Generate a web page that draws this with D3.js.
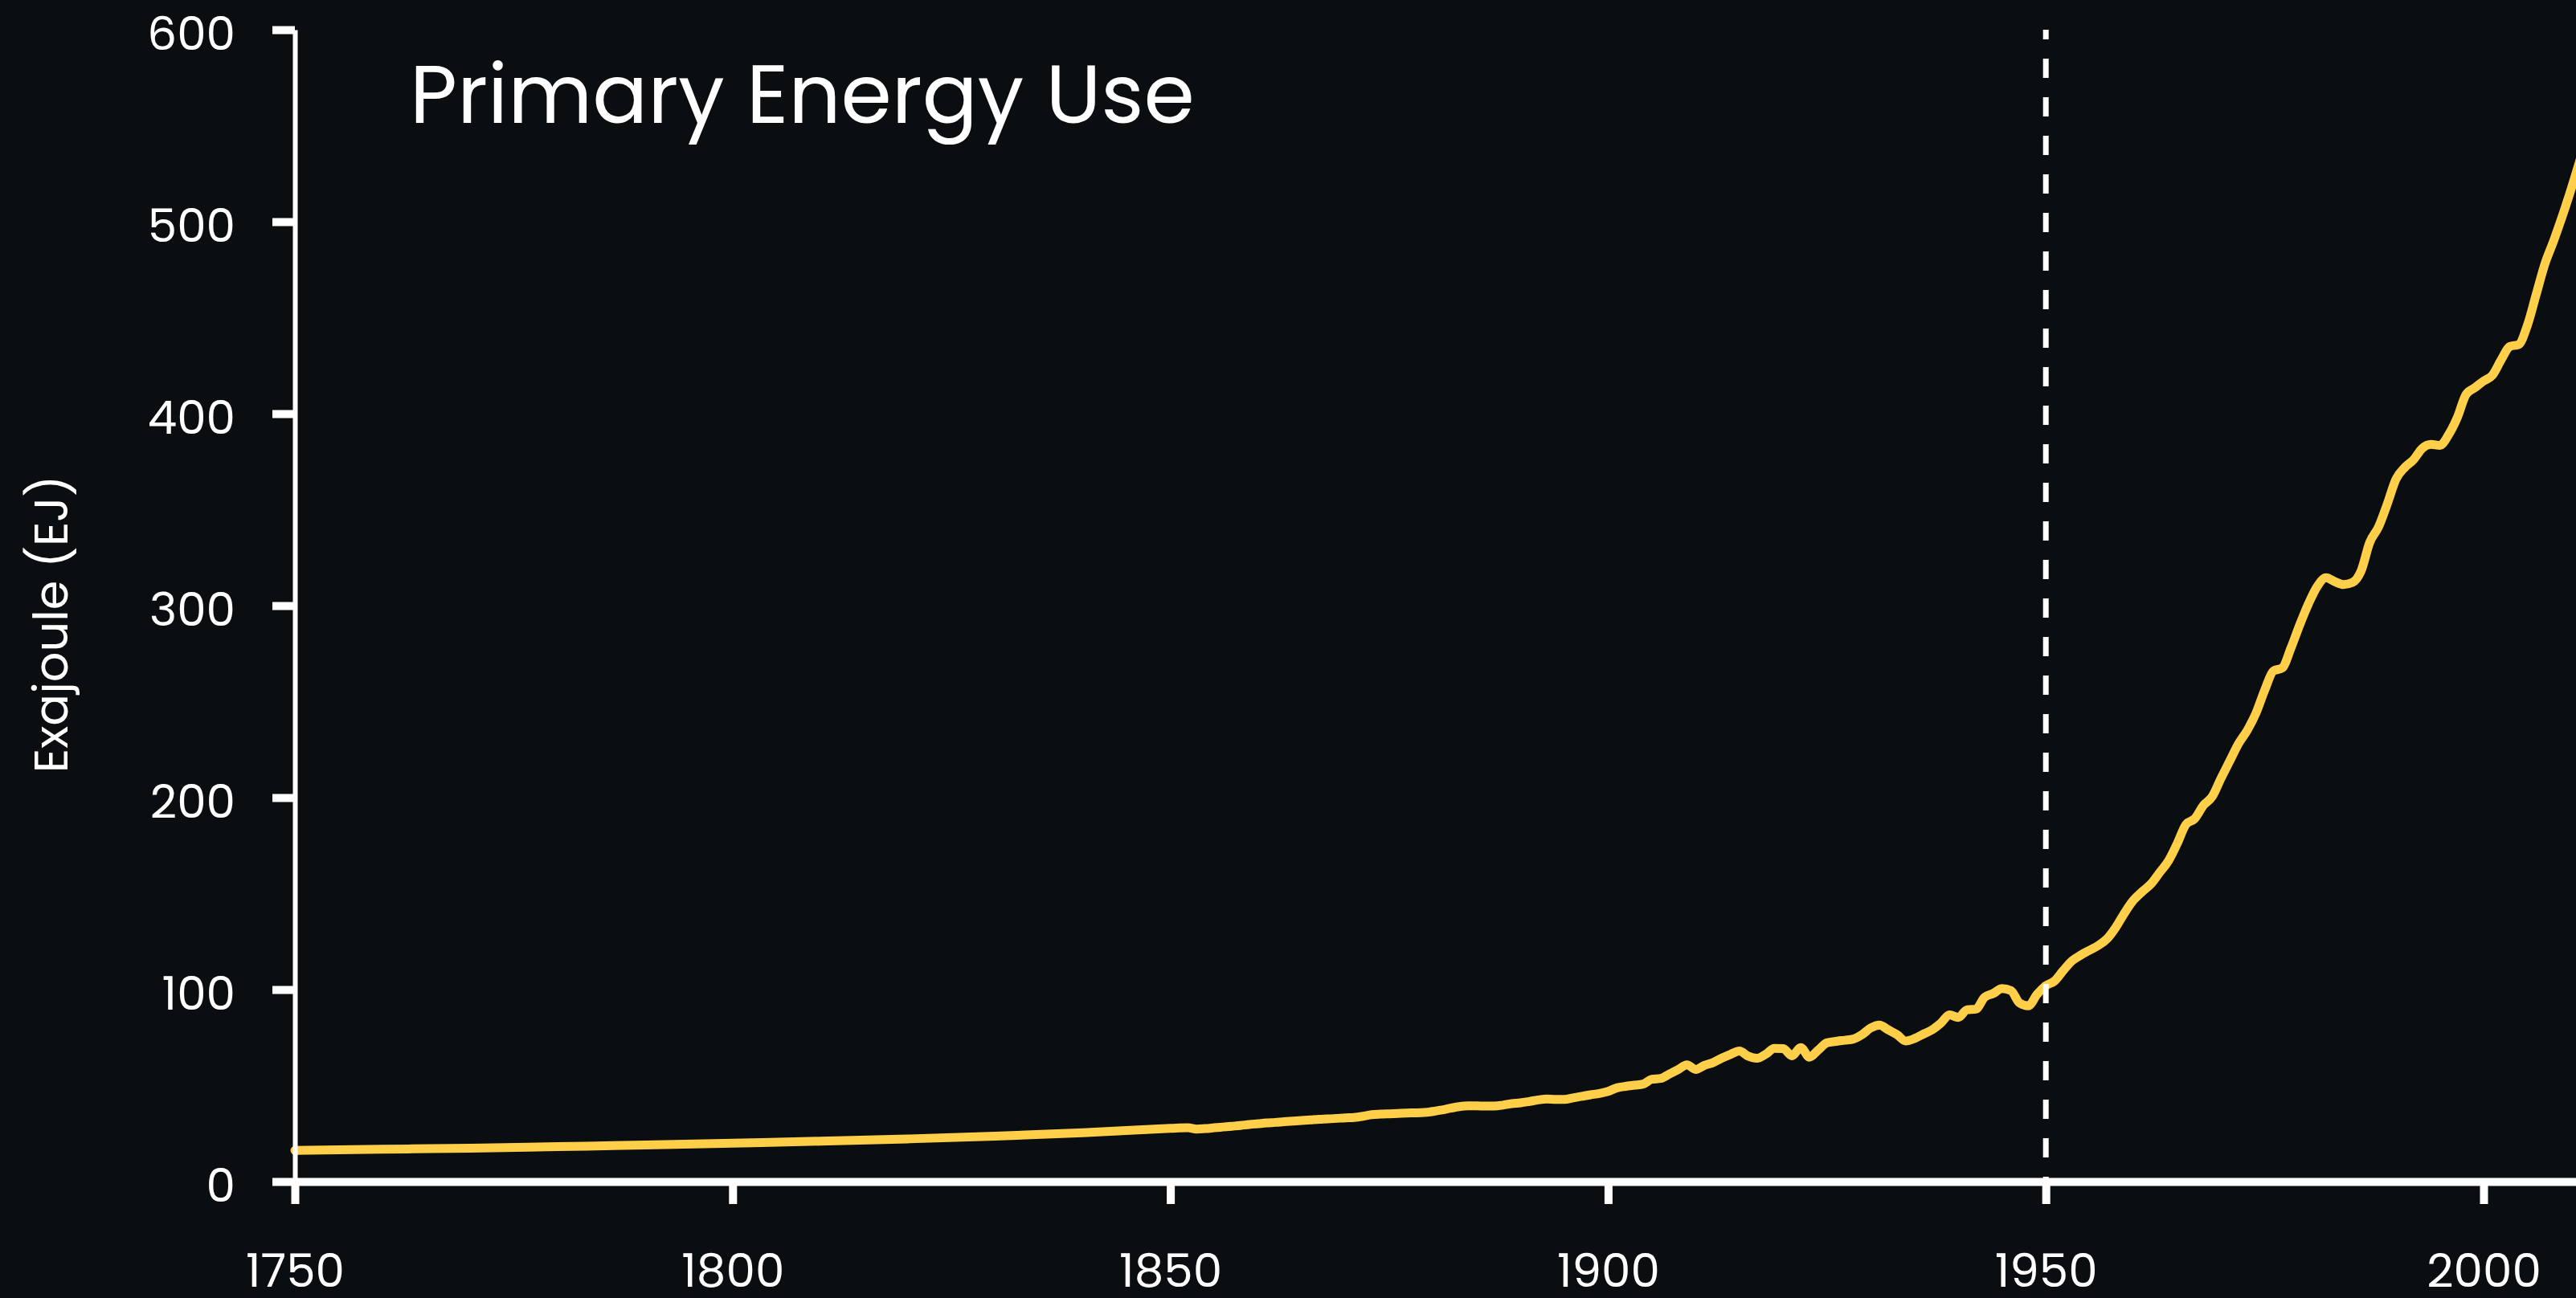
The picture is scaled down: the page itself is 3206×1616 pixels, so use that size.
<!DOCTYPE html>
<html>
<head>
<meta charset="utf-8">
<script src="https://cdn.jsdelivr.net/npm/d3@7"></script>
<style>
  html, body { margin: 0; padding: 0; background: #0b0e11; }
  svg { display: block; }
  text { font-family: Poppins, Inter, "Open Sans", sans-serif; fill: #ffffff; }
</style>
</head>
<body>
<svg id="chart" width="3206" height="1616"></svg>
<script>
// ---- data ----
const years = [
  1750,1760,1770,1780,1790,1800,1810,1820,1830,1840,
  1850,1851,1852,1853,1854,1855,1856,1857,1858,1859,
  1860,1861,1862,1863,1864,1865,1866,1867,1868,1869,
  1870,1871,1872,1873,1874,1875,1876,1877,1878,1879,
  1880,1881,1882,1883,1884,1885,1886,1887,1888,1889,
  1890,1891,1892,1893,1894,1895,1896,1897,1898,1899,
  1900,1901,1902,1903,1904,1905,1906,1907,1908,1909,
  1910,1911,1912,1913,1914,1915,1916,1917,1918,1919,
  1920,1921,1922,1923,1924,1925,1926,1927,1928,1929,
  1930,1931,1932,1933,1934,1935,1936,1937,1938,1939,
  1940,1941,1942,1943,1944,1945,1946,1947,1948,1949,
  1950,1951,1952,1953,1954,1955,1956,1957,1958,1959,
  1960,1961,1962,1963,1964,1965,1966,1967,1968,1969,
  1970,1971,1972,1973,1974,1975,1976,1977,1978,1979,
  1980,1981,1982,1983,1984,1985,1986,1987,1988,1989,
  1990,1991,1992,1993,1994,1995,1996,1997,1998,1999,
  2000,2001,2002,2003,2004,2005,2006,2007,2008,2009,
  2010,2011
];
const energyEJ = [
  16.2,16.8,17.4,18.2,19.0,20.0,21.0,22.2,23.6,25.4,
  27.7,27.9,28.0,27.3,27.6,28.0,28.4,28.8,29.2,29.7,
  30.1,30.5,30.8,31.2,31.5,31.8,32.1,32.4,32.6,32.9,
  33.2,33.4,34.0,34.8,35.1,35.3,35.5,35.7,35.8,36.0,
  36.5,37.3,38.2,39.0,39.4,39.4,39.3,39.3,39.8,40.6,
  41.0,41.7,42.5,43.0,42.8,42.8,43.6,44.4,45.2,45.9,
  47.0,48.8,49.6,50.2,50.8,53.3,53.7,56.0,58.3,60.8,
  58.4,60.5,62.0,64.3,66.3,68.0,65.3,64.2,66.3,69.3,
  69.2,65.5,69.8,64.8,68.5,72.3,73.0,73.6,74.2,76.5,
  80.0,81.5,79.0,76.5,73.2,74.5,76.8,79.0,82.5,86.8,
  85.5,89.5,89.8,96.0,98.0,100.5,99.5,93.0,91.5,97.5,
  102.0,104.5,110.0,115.0,118.0,120.5,123.0,126.5,132.5,140.0,
  146.5,151.0,155.0,161.0,167.0,176.0,186.0,189.0,196.0,200.5,
  210,219,228,235,244,256,266,267.5,278,290,
  301,310,314.5,312.5,311,312,318,333,341,353,
  366,372,376,382,384,383.5,389,398,410,413.5,
  417,420,428,435,436,446,462,478,490,503,
  517,532
];
const yTicks = [0, 100, 200, 300, 400, 500, 600];
const xTicks = [1750, 1800, 1850, 1900, 1950, 2000];
const markerYear = 1950;
const titleText = "Primary Energy Use";
const yLabelText = "Exajoule (EJ)";

// ---- layout ----
const W = 3206, H = 1616;
const bg = "#0b0e11", lineColor = "#ffcf4a";
const svg = d3.select("#chart");
svg.append("rect").attr("width", W).attr("height", H).attr("fill", bg);

const x = d3.scaleLinear().domain([1750, 2000]).range([367, 3091]);
const y = d3.scaleLinear().domain([0, 600]).range([1471, 37]);
const xAxisScale = x.copy().domain([1750, x.invert(W)]).range([367, W]);

const data = years.map((yr, i) => ({ year: yr, v: energyEJ[i] }));

// data line
const line = d3.line().x(d => x(d.year)).y(d => y(d.v)).curve(d3.curveMonotoneX);
svg.append("path")
  .datum(data)
  .attr("d", line)
  .attr("fill", "none")
  .attr("stroke", lineColor)
  .attr("stroke-width", 11)
  .attr("stroke-linecap", "round")
  .attr("stroke-linejoin", "round");

// dashed marker
svg.append("line")
  .attr("x1", x(markerYear)).attr("x2", x(markerYear))
  .attr("y1", y(600)).attr("y2", y(0))
  .attr("stroke", "#ffffff")
  .attr("stroke-width", 7)
  .attr("stroke-dasharray", "24,24")
  .attr("stroke-dashoffset", 12);

// y axis
const yAxis = svg.append("g")
  .attr("transform", `translate(${x(1750)},0)`)
  .call(d3.axisLeft(y).tickValues(yTicks).tickSize(28).tickSizeOuter(0).tickPadding(46).tickFormat(d3.format("d")));
yAxis.select(".domain").attr("stroke", "#fff").attr("stroke-width", 6);
yAxis.selectAll(".tick line").attr("stroke", "#fff").attr("stroke-width", 10);
yAxis.selectAll(".tick text")
  .attr("fill", "#fff")
  .attr("font-size", 58)
  .attr("font-family", "Poppins, Inter, sans-serif")
  .attr("dy", null)
  .attr("y", 24);

// x axis
const xAxis = svg.append("g")
  .attr("transform", `translate(0,${y(0)})`)
  .call(d3.axisBottom(xAxisScale).tickValues(xTicks).tickSize(28).tickSizeOuter(0).tickPadding(0).tickFormat(d3.format("d")));
xAxis.select(".domain").attr("stroke", "#fff").attr("stroke-width", 10);
xAxis.selectAll(".tick line").attr("stroke", "#fff").attr("stroke-width", 10);
xAxis.selectAll(".tick text")
  .attr("fill", "#fff")
  .attr("font-size", 58)
  .attr("font-family", "Poppins, Inter, sans-serif")
  .attr("dy", null)
  .attr("y", 131);

// title
svg.append("text")
  .attr("x", 510).attr("y", 153)
  .attr("font-size", 102)
  .text(titleText);

// y label
svg.append("text")
  .attr("transform", "translate(84,777) rotate(-90)")
  .attr("text-anchor", "middle")
  .attr("font-size", 59)
  .text(yLabelText);
</script>
</body>
</html>
